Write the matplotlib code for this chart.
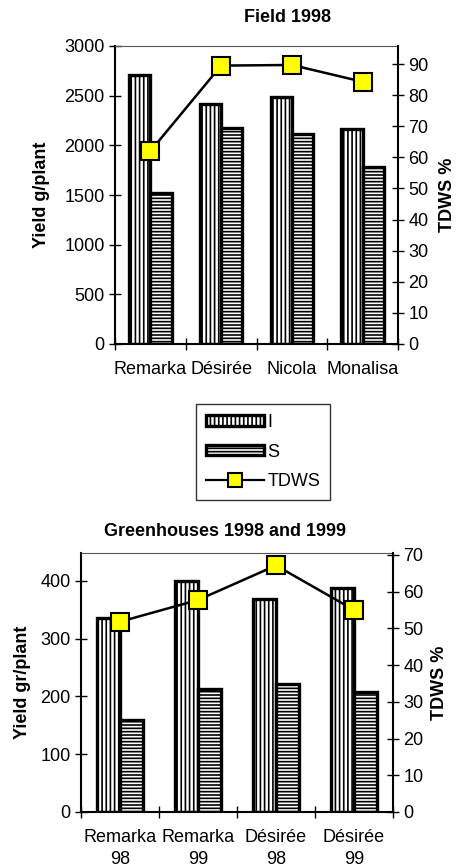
import numpy as np
import matplotlib
matplotlib.use("Agg")
import matplotlib.pyplot as plt
from matplotlib.patches import Rectangle
from matplotlib.lines import Line2D
from matplotlib.ticker import FixedLocator, NullFormatter, FixedFormatter

plt.rcParams['font.family'] = ['Liberation Sans', 'DejaVu Sans']
plt.rcParams['hatch.linewidth'] = 1.2

# ---------- data ----------
field_cats = ["Remarka", "Désirée", "Nicola", "Monalisa"]
field_I = [2710, 2415, 2490, 2160]
field_S = [1525, 2170, 2115, 1780]
field_tdws = [62.0, 89.5, 89.7, 84.3]

gh_cats = ["Remarka\n98", "Remarka\n99", "Désirée\n98", "Désirée\n99"]
gh_I = [336, 400, 368, 387]
gh_S = [160, 212, 222, 207]
gh_tdws = [51.8, 57.7, 67.1, 55.0]

FS = 13

fig = plt.figure(figsize=(4.58, 8.68), dpi=100)


def draw(rect, cats, I, S, tdws, ymax, yticks, rmax, rticks, ylabel, title, title_x, title_y,
         ylab_x, rlab_x):
    ax = fig.add_axes(rect)
    n = len(cats)
    x = np.arange(n)
    w = 0.3
    ax.bar(x - w / 2, I, width=w, facecolor='white', edgecolor='black', linewidth=2.4,
           hatch='||||', zorder=2)
    ax.bar(x + w / 2, S, width=w, facecolor='white', edgecolor='black', linewidth=2.4,
           hatch='-----', zorder=2)
    ax.set_xlim(-0.5, n - 0.5)
    ax.set_ylim(0, ymax)
    ax.set_yticks(yticks)
    ax.set_yticklabels([str(v) for v in yticks], fontsize=FS)
    ax.xaxis.set_major_locator(FixedLocator(np.arange(n + 1) - 0.5))
    ax.xaxis.set_major_formatter(NullFormatter())
    ax.xaxis.set_minor_locator(FixedLocator(x))
    ax.xaxis.set_minor_formatter(FixedFormatter(cats))
    ax.tick_params(axis='x', which='minor', length=0, labelsize=FS, pad=12)
    for lab in ax.xaxis.get_minorticklabels():
        lab.set_linespacing(1.4)
    ax.tick_params(axis='x', which='major', direction='inout', length=9, width=1)
    ax.tick_params(axis='y', direction='inout', length=9, width=1, pad=3)
    ax.spines['left'].set_linewidth(1.5)
    ax.spines['bottom'].set_linewidth(1.5)
    ax.spines['bottom'].set_linestyle((0, (1, 1)))
    ax.spines['top'].set_linestyle((0, (1, 1)))
    ax.spines['top'].set_color('#555555')
    ax.spines['right'].set_visible(False)

    ax2 = ax.twinx()
    ax2.plot(x, tdws, color='black', linewidth=1.8, marker='s', markersize=13,
             markerfacecolor='#FFFF00', markeredgecolor='black', markeredgewidth=1.5, zorder=3)
    ax2.set_ylim(0, rmax)
    ax2.set_yticks(rticks)
    ax2.set_yticklabels([str(v) for v in rticks], fontsize=FS)
    ax2.tick_params(axis='y', direction='inout', length=9, width=1, pad=3)
    ax2.spines['right'].set_linewidth(1.5)
    ax2.spines['top'].set_visible(False)
    ax2.spines['left'].set_visible(False)
    ax2.spines['bottom'].set_visible(False)

    fig.text(title_x, title_y, title, ha='center', va='center', fontsize=FS, fontweight='bold')
    bb_mid = rect[1] + rect[3] / 2
    fig.text(ylab_x, bb_mid, ylabel, rotation=90, ha='center', va='center',
             fontsize=FS, fontweight='bold')
    fig.text(rlab_x, bb_mid, "TDWS %", rotation=90, ha='center', va='center',
             fontsize=FS, fontweight='bold')
    return ax, ax2


# top chart: axes px left 115, right 398, top 46, bottom 344
draw([115 / 458, 1 - 344 / 868, (398 - 115) / 458, (344 - 46) / 868],
     field_cats, field_I, field_S, field_tdws,
     3000, [0, 500, 1000, 1500, 2000, 2500, 3000],
     95.8, [0, 10, 20, 30, 40, 50, 60, 70, 80, 90],
     "Yield g/plant", "Field 1998", 288 / 458, 1 - 18 / 868, 42 / 458, 447 / 458)

# bottom chart: axes px left 81, right 393, top 553, bottom 812
draw([81 / 458, 1 - 812 / 868, (393 - 81) / 458, (812 - 553) / 868],
     gh_cats, gh_I, gh_S, gh_tdws,
     448, [0, 100, 200, 300, 400],
     70.5, [0, 10, 20, 30, 40, 50, 60, 70],
     "Yield gr/plant", "Greenhouses 1998 and 1999", 225 / 458, 1 - 532 / 868, 23 / 458, 440 / 458)

# legend
handles = [
    Rectangle((0, 0), 1, 1, facecolor='white', edgecolor='black', linewidth=2.4, hatch='||||'),
    Rectangle((0, 0), 1, 1, facecolor='white', edgecolor='black', linewidth=2.4, hatch='-----'),
    Line2D([], [], color='black', linewidth=1.6, marker='s', markersize=10,
           markerfacecolor='#FFFF00', markeredgecolor='black', markeredgewidth=1.5),
]
leg = fig.legend(handles, ["I", "S", "TDWS"], loc='upper left',
                 bbox_to_anchor=(196 / 458, 1 - 404 / 868), fontsize=FS,
                 frameon=True, fancybox=False, edgecolor='black', handlelength=3.2,
                 handleheight=0.5, handletextpad=0.2, labelspacing=0.7, borderpad=0.55,
                 borderaxespad=0)
leg.get_frame().set_linewidth(1.0)

fig.savefig("out.png", dpi=100)
